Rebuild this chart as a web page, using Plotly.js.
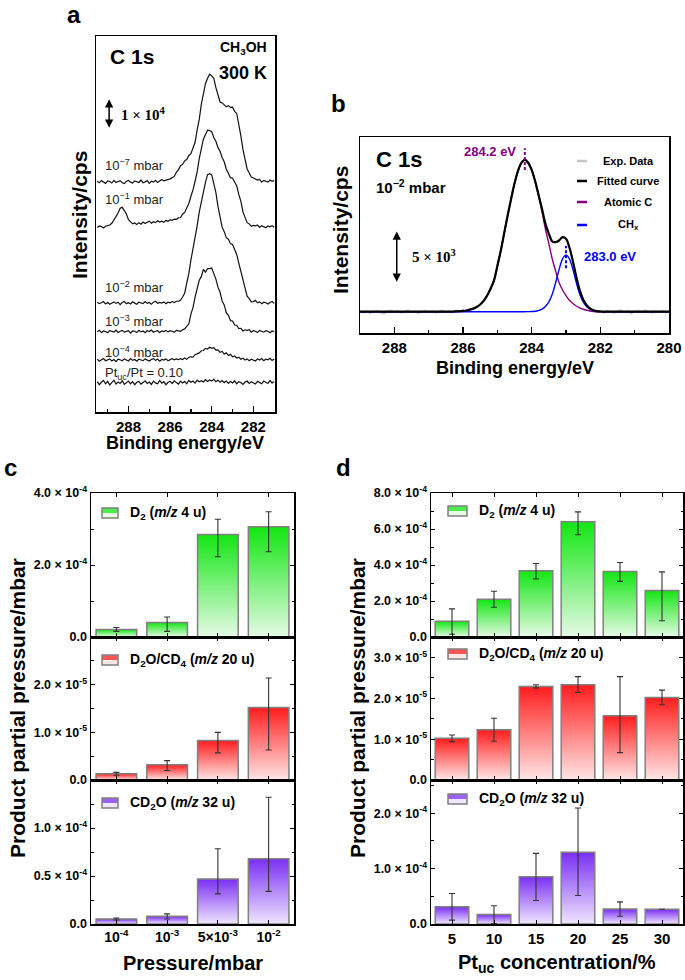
<!DOCTYPE html>
<html><head><meta charset="utf-8">
<script src="https://cdn.plot.ly/plotly-3.0.1.min.js"></script>
<style>html,body{margin:0;padding:0;background:#fff}#chart{width:685px;height:980px}</style>
</head><body><div id="chart"></div>
<script>
// ---------------- DATA ----------------
// Panel a: C 1s spectra (intensity in units of 10^3 cps), binding energy in eV
const energyA = [289.5,289.4,289.3,289.2,289.1,289.0,288.9,288.8,288.7,288.6,
288.5,288.4,288.3,288.2,288.1,288.0,287.9,287.8,287.7,287.6,
287.5,287.4,287.3,287.2,287.1,287.0,286.9,286.8,286.7,286.6,
286.5,286.4,286.3,286.2,286.1,286.0,285.9,285.8,285.7,285.6,
285.5,285.4,285.3,285.2,285.1,285.0,284.9,284.8,284.7,284.6,
284.5,284.4,284.3,284.2,284.1,284.0,283.9,283.8,283.7,283.6,
283.5,283.4,283.3,283.2,283.1,283.0,282.9,282.8,282.7,282.6,
282.5,282.4,282.3,282.2,282.1,282.0,281.9,281.8,281.7,281.6,
281.5,281.4,281.3,281.2,281.1,281.0];
const spec_1e7 = [0.2,-0.3,0.4,-0.1,-0.5,0.3,0.1,-0.4,0.5,-0.2,
0.0,0.4,-0.3,-0.6,0.2,0.5,-0.1,-0.4,0.3,0.1,
-0.2,0.6,-0.3,0.0,0.4,-0.5,0.2,-0.1,0.5,-0.2,
0.4,0.8,0.3,0.5,0.9,1.0,1.4,1.8,3.2,4.0,
5.4,5.8,7.0,7.4,8.8,9.4,11.3,13.2,17.3,20.8,
25.8,29.3,32.8,34.5,35.9,35.3,34.5,31.4,29.0,26.6,
26.3,25.6,25.0,25.4,24.8,24.9,23.5,22.8,19.5,15.3,
10.8,7.7,4.3,3.0,1.6,1.3,0.9,0.6,0.8,-0.1,
0.5,0.3,-0.1,0.6,0.2,0.4];
const spec_1e1 = [-0.2,0.3,0.1,-0.4,0.2,0.5,0.6,1.2,2.1,3.4,
4.6,6.2,6.5,5.3,4.3,2.4,1.8,1.0,1.3,0.8,
1.4,0.9,1.6,1.1,1.5,1.9,1.2,1.7,1.4,2.0,
1.6,1.9,1.5,2.2,1.8,2.4,2.2,2.6,2.5,3.0,
3.1,4.2,4.8,6.5,7.8,10.2,12.3,15.2,18.3,22.7,
25.8,29.2,30.8,32.2,32.1,31.7,29.8,28.5,26.4,25.2,
23.1,21.7,19.3,18.0,16.4,16.2,15.1,13.7,10.8,8.5,
5.0,3.2,1.4,1.0,0.2,0.5,0.3,0.6,-0.2,0.4,
0.1,-0.3,0.3,0.0,0.4,-0.1];
const spec_1e2 = [0.3,-0.2,0.1,0.5,-0.3,0.2,-0.4,0.0,0.4,-0.1,
0.3,-0.5,0.2,0.5,-0.2,0.1,-0.3,0.4,0.0,-0.4,
0.3,0.1,-0.2,0.5,-0.1,0.2,-0.4,0.3,0.6,-0.1,
0.2,0.0,0.4,-0.2,0.3,0.1,0.5,0.2,0.6,0.6,
0.9,2.0,3.3,6.7,9.8,14.3,17.8,22.4,25.7,30.3,
33.8,37.9,40.2,42.8,43.1,42.7,39.8,36.8,32.2,28.7,
25.3,23.8,21.8,21.3,19.8,19.5,17.7,16.2,13.3,10.7,
7.3,5.0,2.3,1.5,0.4,0.5,0.9,0.1,0.4,-0.2,
0.3,0.1,-0.3,0.2,0.5,-0.1];
const spec_1e3 = [-0.1,0.4,-0.3,0.2,0.0,-0.4,0.3,0.1,-0.2,0.5,
-0.3,0.1,0.4,-0.2,0.0,0.3,-0.5,0.2,0.1,-0.3,
0.4,-0.1,0.2,-0.4,0.3,0.0,0.5,-0.2,0.1,0.3,
-0.3,0.2,0.0,0.4,-0.1,0.3,0.1,-0.2,0.4,0.2,
0.1,0.6,0.9,1.7,2.6,5.8,8.0,11.5,14.0,17.1,
18.3,20.7,19.8,21.0,21.0,21.2,19.3,17.5,14.8,13.1,
10.2,8.9,6.3,5.4,3.7,3.5,2.2,2.1,1.0,1.1,
0.2,0.6,0.4,0.6,-0.2,0.3,0.1,-0.3,0.4,0.0,
-0.2,0.3,0.1,-0.4,0.2,0.0];
const spec_1e4 = [0.3,-0.4,0.1,0.5,-0.2,0.0,0.4,-0.3,0.2,-0.5,
0.3,0.1,-0.2,0.4,0.0,-0.3,0.5,-0.1,0.2,-0.4,
0.3,0.0,-0.2,0.4,0.1,-0.3,0.2,0.5,-0.1,0.3,
-0.4,0.2,0.0,0.4,-0.2,0.3,0.5,0.1,0.4,0.2,
0.5,0.2,0.7,0.3,0.9,1.1,1.0,1.8,2.0,2.4,
3.1,3.2,3.9,3.7,4.3,3.9,4.1,3.3,3.4,2.6,
2.9,2.0,2.4,1.5,1.9,1.1,1.4,0.7,1.0,0.3,
0.6,0.0,0.4,-0.2,0.3,0.1,-0.3,0.4,0.0,0.5,
-0.2,0.3,0.1,0.6,-0.1,0.4];
const spec_Pt = [0.4,-0.6,0.2,0.8,-0.3,0.5,-0.7,0.1,0.9,-0.4,
0.3,-0.2,0.7,-0.5,0.0,0.6,-0.3,0.4,-0.6,0.2,
0.5,-0.4,0.1,0.7,-0.2,0.3,-0.5,0.6,0.0,-0.3,
0.8,-0.1,0.4,-0.6,0.2,0.5,-0.2,0.7,0.1,-0.4,
0.6,0.0,0.5,-0.3,0.8,0.2,0.6,-0.1,0.9,0.4,
0.7,0.3,1.1,0.5,1.0,0.6,1.2,0.4,0.9,0.2,
0.8,0.1,0.6,-0.2,0.5,0.0,0.7,-0.3,0.4,0.1,
-0.5,0.3,0.6,-0.2,0.4,0.0,-0.4,0.5,0.2,-0.3,
0.6,0.1,-0.2,0.8,0.0,0.4];
const specLabels = ['10<sup>−7</sup> mbar','10<sup>−1</sup> mbar','10<sup>−2</sup> mbar','10<sup>−3</sup> mbar','10<sup>−4</sup> mbar','Pt<sub>uc</sub>/Pt = 0.10'];
const specOffsets = [76.7, 61.7, 36.3, 26.8, 17.3, 9.7];   // stacking offsets (10^3 cps)

// Panel b: C 1s fit at 10^-2 mbar (10^3 cps)
const energyB = [289.0,288.9,288.8,288.7,288.6,288.5,288.4,288.3,288.2,288.1,
288.0,287.9,287.8,287.7,287.6,287.5,287.4,287.3,287.2,287.1,
287.0,286.9,286.8,286.7,286.6,286.5,286.4,286.3,286.2,286.1,
286.0,285.9,285.8,285.7,285.6,285.5,285.4,285.3,285.2,285.1,
285.0,284.9,284.8,284.7,284.6,284.5,284.4,284.3,284.2,284.1,
284.0,283.9,283.8,283.7,283.6,283.5,283.4,283.3,283.2,283.1,
283.0,282.9,282.8,282.7,282.6,282.5,282.4,282.3,282.2,282.1,
282.0,281.9,281.8,281.7,281.6,281.5,281.4,281.3,281.2,281.1,
281.0,280.9,280.8,280.7,280.6,280.5,280.4,280.3,280.2,280.1,280.0];
const expData = [0.05,-0.1,0.08,-0.15,0.02,0.1,-0.08,-0.2,0.04,0.12,
-0.05,0.09,-0.12,0.0,0.14,-0.07,0.06,-0.16,0.03,0.11,
-0.04,0.08,-0.1,0.05,0.13,-0.06,0.07,-0.02,0.12,0.0,
0.15,0.05,0.28,0.25,0.52,0.68,1.12,1.5,2.3,2.95,
4.5,5.85,7.7,9.25,11.0,12.35,13.7,14.35,14.8,14.35,
13.8,12.6,11.4,9.9,8.55,7.5,6.85,6.7,6.95,7.15,
7.1,6.15,4.95,3.3,2.12,1.15,0.7,0.28,0.18,-0.02,
0.08,-0.12,0.1,0.03,-0.14,0.06,0.16,-0.05,0.09,-0.18,
0.02,0.11,-0.08,0.14,0.0,-0.11,0.07,-0.03,0.1,-0.06,0.04];
const fittedCurve = [0,0,0,0,0,0,0,0,0,0,
0,0,0,0,0,0,0,0,0,0,
0,0,0,0,0,0,0,0.01,0.03,0.05,
0.08,0.12,0.2,0.3,0.45,0.7,1.05,1.55,2.2,3.0,
4.4,5.9,7.6,9.3,10.9,12.4,13.6,14.4,14.7,14.41,
13.72,12.65,11.32,9.95,8.5,7.55,6.79,6.73,6.89,7.21,
7.05,6.21,4.89,3.38,2.07,1.19,0.64,0.32,0.14,0.05,
0.02,0,0,0,0,0,0,0,0,0,
0,0,0,0,0,0,0,0,0,0,0];
const atomicC = [0,0,0,0,0,0,0,0,0,0,
0,0,0,0,0,0,0,0,0,0,
0,0,0,0,0,0,0,0.01,0.03,0.05,
0.08,0.12,0.2,0.3,0.45,0.7,1.05,1.55,2.2,3.0,
4.4,5.9,7.6,9.3,10.9,12.4,13.6,14.4,14.7,14.4,
13.7,12.6,11.2,9.7,8.0,6.6,5.1,3.9,2.8,2.1,
1.55,1.1,0.8,0.55,0.38,0.24,0.14,0.07,0.02,0,
0,0,0,0,0,0,0,0,0,0,
0,0,0,0,0,0,0,0,0,0,0];
const chX = [0,0,0,0,0,0,0,0,0,0,
0,0,0,0,0,0,0,0,0,0,
0,0,0,0,0,0,0,0,0,0,
0,0,0,0,0,0,0,0,0,0,
0,0,0,0,0,0,0,0,0,0.01,
0.02,0.05,0.12,0.25,0.5,0.95,1.69,2.83,4.09,5.11,
5.5,5.11,4.09,2.83,1.69,0.95,0.5,0.25,0.12,0.05,
0.02,0,0,0,0,0,0,0,0,0,
0,0,0,0,0,0,0,0,0,0,0];
const peakAtomicC = 284.2, peakCHx = 283.0;

// Panel c: product partial pressure vs CH3OH pressure (mbar)
const pressureLabels = ['10<sup>-4</sup>','10<sup>-3</sup>','5×10<sup>-3</sup>','10<sup>-2</sup>'];
const c_D2 = [2.1e-5, 4.05e-5, 2.85e-4, 3.06e-4];
const c_D2_errPlus = [0.55e-5, 1.5e-5, 0.42e-4, 0.42e-4];
const c_D2_errMinus = [0.55e-5, 2.5e-5, 0.62e-4, 0.69e-4];
const c_D2O = [1.3e-6, 3.2e-6, 8.3e-6, 1.52e-5];
const c_D2O_errPlus = [0.3e-6, 0.87e-6, 1.7e-6, 6.2e-6];
const c_D2O_errMinus = [0.3e-6, 1.2e-6, 2.6e-6, 8.9e-6];
const c_CD2O = [5.2e-6, 8.0e-6, 4.7e-5, 6.8e-5];
const c_CD2O_errPlus = [1.0e-6, 2.5e-6, 3.14e-5, 6.4e-5];
const c_CD2O_errMinus = [1.0e-6, 2.8e-6, 1.56e-5, 3.4e-5];

// Panel d: product partial pressure vs Pt_uc concentration (%)
const ptucLabels = ['5','10','15','20','25','30'];
const d_D2 = [0.88e-4, 2.1e-4, 3.68e-4, 6.4e-4, 3.64e-4, 2.59e-4];
const d_D2_errPlus = [0.68e-4, 0.44e-4, 0.4e-4, 0.55e-4, 0.5e-4, 1.03e-4];
const d_D2_errMinus = [0.73e-4, 0.45e-4, 0.46e-4, 0.72e-4, 0.55e-4, 1.69e-4];
const d_D2O = [1.02e-5, 1.23e-5, 2.29e-5, 2.33e-5, 1.57e-5, 2.02e-5];
const d_D2O_errPlus = [0.08e-5, 0.28e-5, 0.04e-5, 0.2e-5, 0.96e-5, 0.18e-5];
const d_D2O_errMinus = [0.08e-5, 0.28e-5, 0.04e-5, 0.19e-5, 0.9e-5, 0.18e-5];
const d_CD2O = [0.31e-4, 0.17e-4, 0.855e-4, 1.295e-4, 0.27e-4, 0.265e-4];
const d_CD2O_errPlus = [0.24e-4, 0.16e-4, 0.42e-4, 0.8e-4, 0.13e-4, 0];
const d_CD2O_errMinus = [0.24e-4, 0.16e-4, 0.43e-4, 0.78e-4, 0.13e-4, 0];

const productNames = ['D<sub>2</sub> (<i>m/z</i> 4 u)','D<sub>2</sub>O/CD<sub>4</sub> (<i>m/z</i> 20 u)','CD<sub>2</sub>O (<i>m/z</i> 32 u)'];

// ---------------- LAYOUT HELPERS ----------------
const W = 685, H = 980;
const fx = v => v / W;
const fy = v => 1 - v / H;
const FONT = 'Liberation Sans, Arial, sans-serif';
const SERIF = 'Liberation Serif, DejaVu Serif, serif';
const greens = ['#E6FAE6', '#12E612'];
const reds = ['#FFE6E6', '#FF1C1C'];
const purples = ['#EFE6FF', '#7A2EF2'];

const traces = [];
const specs = [spec_1e7, spec_1e1, spec_1e2, spec_1e3, spec_1e4, spec_Pt];
specs.forEach((s, k) => {
  traces.push({type:'scatter', mode:'lines', x: energyA, y: s.map(v => v + specOffsets[k]),
    line:{color:'#111', width:1.2}, xaxis:'x', yaxis:'y', showlegend:false, hoverinfo:'skip'});
});

traces.push({type:'scatter', mode:'lines', x: energyB, y: expData, line:{color:'#c4c4c4', width:1.6}, xaxis:'x2', yaxis:'y2', showlegend:false});
traces.push({type:'scatter', mode:'lines', x: energyB, y: atomicC, line:{color:'#800080', width:1.4, shape:'spline'}, xaxis:'x2', yaxis:'y2', showlegend:false});
traces.push({type:'scatter', mode:'lines', x: energyB, y: chX, line:{color:'#0000ff', width:1.4, shape:'spline'}, xaxis:'x2', yaxis:'y2', showlegend:false});
traces.push({type:'scatter', mode:'lines', x: energyB, y: fittedCurve, line:{color:'#000', width:2.2, shape:'spline'}, xaxis:'x2', yaxis:'y2', showlegend:false});

function bars(vals, errP, errM, xa, ya, cols) {
  vals.forEach((v, i) => {
    traces.push({type:'scatter', mode:'lines', x:[i-0.4, i-0.4, i+0.4, i+0.4, i-0.4], y:[0, v, v, 0, 0],
      fill:'toself', fillgradient:{type:'vertical', colorscale:[[0, cols[0]], [1, cols[1]]]},
      line:{color:'#808080', width:1.5}, xaxis:xa, yaxis:ya, showlegend:false, hoverinfo:'skip'});
  });
  traces.push({type:'scatter', mode:'markers', x: vals.map((v, i) => i), y: vals,
    marker:{size:1, color:'rgba(0,0,0,0)'},
    error_y:{type:'data', symmetric:false, array: errP, arrayminus: errM, visible:true, color:'#333', thickness:1.1, width:3},
    xaxis:xa, yaxis:ya, showlegend:false, hoverinfo:'skip'});
}
bars(c_D2, c_D2_errPlus, c_D2_errMinus, 'x3', 'y3', greens);
bars(c_D2O, c_D2O_errPlus, c_D2O_errMinus, 'x4', 'y4', reds);
bars(c_CD2O, c_CD2O_errPlus, c_CD2O_errMinus, 'x5', 'y5', purples);
bars(d_D2, d_D2_errPlus, d_D2_errMinus, 'x6', 'y6', greens);
bars(d_D2O, d_D2O_errPlus, d_D2O_errMinus, 'x7', 'y7', reds);
bars(d_CD2O, d_CD2O_errPlus, d_CD2O_errMinus, 'x8', 'y8', purples);

const frame = {showline:true, linecolor:'#000', linewidth:1.5, mirror:true, zeroline:false, showgrid:false};
const sci = (m, e) => m + ' × 10<sup>' + e + '</sup>';
const tickF = {family:FONT, size:12.5, color:'#000', weight:'bold'};

const layout = {
  width:W, height:H, margin:{l:0, r:0, t:0, b:0}, paper_bgcolor:'#fff', plot_bgcolor:'rgba(0,0,0,0)',
  font:{family:FONT, color:'#000'}, showlegend:false,
  xaxis: Object.assign({}, frame, {domain:[fx(96), fx(275)], range:[289.56, 280.96], anchor:'y',
    tickmode:'array', tickvals:[288,286,284,282], ticks:'inside', ticklen:6, tickwidth:1.3, tickcolor:'#000',
    minor:{tickmode:'array', tickvals:[289,287,285,283,281], ticks:'inside', ticklen:3, tickcolor:'#000'},
    tickfont:{family:FONT, size:15, weight:'bold'}}),
  yaxis: Object.assign({}, frame, {domain:[fy(412), fy(36)], range:[0, 125.3], anchor:'x', showticklabels:false, ticks:''}),
  xaxis2: Object.assign({}, frame, {domain:[fx(360), fx(669)], range:[289, 280], anchor:'y2',
    tickmode:'array', tickvals:[288,286,284,282,280], ticks:'inside', ticklen:6, tickwidth:1.3, tickcolor:'#000',
    minor:{tickmode:'array', tickvals:[287,285,283,281], ticks:'inside', ticklen:3, tickcolor:'#000'},
    tickfont:{family:FONT, size:15, weight:'bold'}}),
  yaxis2: Object.assign({}, frame, {domain:[fy(333), fy(137)], range:[-2.06, 16.9], anchor:'x2', showticklabels:false, ticks:''}),
  shapes: [], annotations: []
};

const yDom = [[fy(637), fy(493)], [fy(780), fy(637)], [fy(924), fy(780)]];
function catX(name, anchor, dom, n, labels, row, size) {
  layout[name] = Object.assign({}, frame, {domain:dom, range:[-0.5, n - 0.5], anchor:anchor,
    tickmode:'array', tickvals:labels.map((l, i) => i), ticktext:labels, showticklabels: row === 2,
    ticks:'inside', ticklen:4, tickcolor:'#000', mirror:'ticks',
    tickfont:{family:FONT, size:size, weight:'bold'}});
}
function valY(name, anchor, row, rng, vals, txt, minor) {
  layout[name] = Object.assign({}, frame, {domain:yDom[row], range:rng, anchor:anchor,
    tickmode:'array', tickvals:vals, ticktext:txt, ticks:'inside', ticklen:4, tickcolor:'#000', mirror:'ticks',
    minor:{tickmode:'array', tickvals:minor, ticks:'inside', ticklen:2.5, tickcolor:'#000'},
    tickfont:tickF});
}
const cDom = [fx(91), fx(294)], dDom = [fx(431), fx(683)];
catX('xaxis3', 'y3', cDom, 4, pressureLabels, 0, 14);
catX('xaxis4', 'y4', cDom, 4, pressureLabels, 1, 14);
catX('xaxis5', 'y5', cDom, 4, pressureLabels, 2, 14);
catX('xaxis6', 'y6', dDom, 6, ptucLabels, 0, 15);
catX('xaxis7', 'y7', dDom, 6, ptucLabels, 1, 15);
catX('xaxis8', 'y8', dDom, 6, ptucLabels, 2, 15);
valY('yaxis3', 'x3', 0, [0, 4.0e-4], [0, 2e-4, 4e-4], ['0.0', sci('2.0', '-4'), sci('4.0', '-4')], [1e-4, 3e-4]);
valY('yaxis4', 'x4', 1, [0, 3.0e-5], [0, 1e-5, 2e-5], ['0.0', sci('1.0', '-5'), sci('2.0', '-5')], [0.5e-5, 1.5e-5, 2.5e-5]);
valY('yaxis5', 'x5', 2, [0, 1.5e-4], [0, 0.5e-4, 1e-4], ['0.0', sci('0.5', '-4'), sci('1.0', '-4')], [0.25e-4, 0.75e-4, 1.25e-4]);
valY('yaxis6', 'x6', 0, [0, 8.0e-4], [0, 2e-4, 4e-4, 6e-4, 8e-4], ['0.0', sci('2.0', '-4'), sci('4.0', '-4'), sci('6.0', '-4'), sci('8.0', '-4')], [1e-4, 3e-4, 5e-4, 7e-4]);
valY('yaxis7', 'x7', 1, [0, 3.5e-5], [0, 1e-5, 2e-5, 3e-5], ['0.0', sci('1.0', '-5'), sci('2.0', '-5'), sci('3.0', '-5')], [0.5e-5, 1.5e-5, 2.5e-5]);
valY('yaxis8', 'x8', 2, [0, 2.6e-4], [0, 1e-4, 2e-4], ['0.0', sci('1.0', '-4'), sci('2.0', '-4')], [0.5e-4, 1.5e-4, 2.5e-4]);

const A = layout.annotations, S = layout.shapes;
function txt(text, x, y, size, opts) {
  A.push(Object.assign({text:text, x:fx(x), y:fy(y), xref:'paper', yref:'paper', showarrow:false,
    xanchor:'center', yanchor:'middle', font:{family:FONT, size:size, color:'#000', weight:'bold'}}, opts || {}));
}
// panel letters
txt('a', 74, 15, 24); txt('b', 338, 104, 24); txt('c', 10, 467, 24); txt('d', 343, 467, 24);

// panel a texts
txt('C 1s', 132, 56, 21);
txt('CH<sub>3</sub>OH', 269, 48, 14, {xanchor:'right'});
txt('300 K', 269, 73, 18, {xanchor:'right'});
txt('1 × 10<sup>4</sup>', 119, 114, 15, {xanchor:'left', font:{family:SERIF, size:15, color:'#000', weight:'bold'}});
A.push({x:288.93, y:94.7, ax:288.93, ay:104.7, xref:'x', yref:'y', axref:'x', ayref:'y', text:'', showarrow:true,
  arrowhead:2, arrowside:'end+start', arrowsize:1.1, arrowwidth:1.5, arrowcolor:'#000'});
const labelY = [165, 199, 287, 321, 352, 373];
specLabels.forEach((l, k) => txt(l, 103, labelY[k], 13, {xanchor:'left', font:{family:FONT, size:13, color:'#222'}}));
txt('Binding energy/eV', 185, 443, 18);
txt('Intensity/cps', 80, 215, 21, {textangle:-90});

// panel b texts
txt('C 1s', 374, 160, 22, {xanchor:'left'});
txt('10<sup>−2</sup> mbar', 374, 186, 15, {xanchor:'left'});
txt('284.2 eV', 518, 152, 13, {xanchor:'right', font:{family:FONT, size:13, color:'#800080', weight:'bold'}});
txt('283.0 eV', 582, 256, 13, {xanchor:'left', font:{family:FONT, size:13, color:'#0000ff', weight:'bold'}});
S.push({type:'line', xref:'x2', yref:'y2', x0:peakAtomicC, x1:peakAtomicC, y0:13.7, y1:15.8, line:{color:'#800080', width:2, dash:'3px,2px'}});
S.push({type:'line', xref:'x2', yref:'y2', x0:peakCHx, x1:peakCHx, y0:4.2, y1:6.35, line:{color:'#0000ff', width:2, dash:'3px,2px'}});
A.push({x:287.93, y:2.9, ax:287.93, ay:7.9, xref:'x2', yref:'y2', axref:'x2', ayref:'y2', text:'', showarrow:true,
  arrowhead:2, arrowside:'end+start', arrowsize:1.1, arrowwidth:1.5, arrowcolor:'#000'});
txt('5 × 10<sup>3</sup>', 410, 256, 15, {xanchor:'left', font:{family:SERIF, size:15, color:'#000', weight:'bold'}});
const legB = [['Exp. Data', '#c4c4c4', 161], ['Fitted curve', '#000', 181], ['Atomic C', '#800080', 202], ['CH<sub>x</sub>', '#0000ff', 225]];
legB.forEach(([t, c, y]) => {
  S.push({type:'line', xref:'paper', yref:'paper', x0:fx(577), x1:fx(587), y0:fy(y), y1:fy(y), line:{color:c, width:2.5}});
  txt(t, 628, y, 11);
});
txt('Binding energy/eV', 515, 368, 18);
txt('Intensity/cps', 340, 230, 21, {textangle:-90});

// panel c/d legends
function legBox(x0, x1, yc, cols) {
  S.push({type:'rect', xref:'paper', yref:'paper', x0:fx(x0), x1:fx(x1), y0:fy(yc + 5), y1:fy(yc), fillcolor:cols[0], line:{width:0}});
  S.push({type:'rect', xref:'paper', yref:'paper', x0:fx(x0), x1:fx(x1), y0:fy(yc), y1:fy(yc - 5), fillcolor:cols[1], opacity:0.75, line:{width:0}});
  S.push({type:'rect', xref:'paper', yref:'paper', x0:fx(x0), x1:fx(x1), y0:fy(yc + 5), y1:fy(yc - 5), line:{color:'#808080', width:1.5}});
}
const colSets = [greens, reds, purples];
[513, 660, 803].forEach((y, k) => { legBox(102, 118, y, colSets[k]); txt(productNames[k], 128, y, 14, {xanchor:'left'}); });
[511, 654, 799].forEach((y, k) => { legBox(448, 467, y, colSets[k]); txt(productNames[k], 477, y, 14, {xanchor:'left'}); });
txt('Pressure/mbar', 193, 963, 20);
txt('Pt<sub>uc</sub> concentration/%', 557, 963, 20);
txt('Product partial pressure/mbar', 17, 708, 21, {textangle:-90});
txt('Product partial pressure/mbar', 357, 708, 21, {textangle:-90});

Plotly.newPlot('chart', traces, layout, {displayModeBar:false, staticPlot:true});
</script></body></html>
